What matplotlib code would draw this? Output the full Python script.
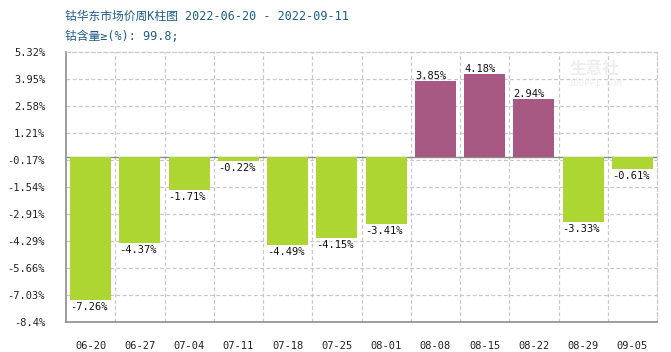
import matplotlib.pyplot as plt
import numpy as np
from matplotlib.transforms import offset_copy

weeks = ["06-20", "06-27", "07-04", "07-11", "07-18", "07-25",
         "08-01", "08-08", "08-15", "08-22", "08-29", "09-05"]
changes = [-7.26, -4.37, -1.71, -0.22, -4.49, -4.15,
           -3.41, 3.85, 4.18, 2.94, -3.33, -0.61]
ytick_labels = ["5.32%", "3.95%", "2.58%", "1.21%", "-0.17%", "-1.54%",
                "-2.91%", "-4.29%", "-5.66%", "-7.03%", "-8.4%"]
y_top, y_bottom = 5.32, -8.4

green = "#add633"
purple = "#a85983"
grid_color = "#c8c8c8"
spine_color = "#8c8c8c"
title_color = "#1d5d8b"

plt.rcParams["font.family"] = ["DejaVu Sans Mono", "Noto Sans CJK SC"]

fig = plt.figure(figsize=(6.71, 3.52), dpi=100)
ax = fig.add_axes([66 / 671, 1 - 322 / 352, 591 / 671, 270 / 352])

x = np.arange(len(weeks))
colors = [purple if v > 0 else green for v in changes]
width = 0.83
ax.bar(x, changes, width=width, color=colors, zorder=3)

ax.set_xlim(-0.5, len(weeks) - 0.5)
ax.set_ylim(y_bottom, y_top)

# grid
yticks = np.linspace(y_top, y_bottom, len(ytick_labels))
for yv in yticks[1:-1]:
    ax.axhline(yv, color=grid_color, linestyle=(0, (3, 2)), linewidth=0.9, zorder=1)
for xv in np.arange(0.5, len(weeks) - 0.5, 1.0):
    ax.axvline(xv, color=grid_color, linestyle=(0, (3, 2)), linewidth=0.9, zorder=1)
ax.axhline(0, color=spine_color, linewidth=1.0, zorder=2)

ax.set_yticks(yticks)
ax.set_yticklabels(ytick_labels)
ax.set_xticks(x)
ax.set_xticklabels(weeks)
ax.tick_params(axis="y", length=0, pad=15, labelsize=7.5, labelcolor="#222222")
ax.tick_params(axis="x", length=0, pad=14, labelsize=7.5, labelcolor="#222222")

for side in ["top", "right"]:
    ax.spines[side].set_color(grid_color)
    ax.spines[side].set_linestyle((0, (3, 2)))
    ax.spines[side].set_linewidth(0.9)
for side in ["left", "bottom"]:
    ax.spines[side].set_color(spine_color)
    ax.spines[side].set_linewidth(1.2)

# value labels
for xi, v in zip(x, changes):
    if v > 0:
        ax.text(xi - width / 2, v, f"{v:.2f}%", ha="left", va="bottom",
                fontsize=7.5, color="#111111", zorder=4)
    else:
        ax.text(xi - width / 2, v, f"{v:.2f}%", ha="left", va="top",
                fontsize=7.5, color="#111111", zorder=4,
                transform=offset_copy(ax.transData, fig=fig, y=-2, units="dots"))

# watermark
fig.text(0.848, 0.79, "生意社", fontsize=12, color="#eeeeee",
         family=["Noto Sans CJK SC"], weight="bold", zorder=0)
fig.text(0.848, 0.755, "100PPI.COM", fontsize=6.5, color="#eeeeee", zorder=0)

fig.text(65 / 671, 1 - 16 / 352, "钴华东市场价周K柱图 2022-06-20 - 2022-09-11",
         fontsize=8.5, color=title_color, va="center")
fig.text(65 / 671, 1 - 37 / 352, "钴含量≥(%): 99.8;",
         fontsize=8.5, color=title_color, va="center")

fig.savefig("out.png", dpi=100)
